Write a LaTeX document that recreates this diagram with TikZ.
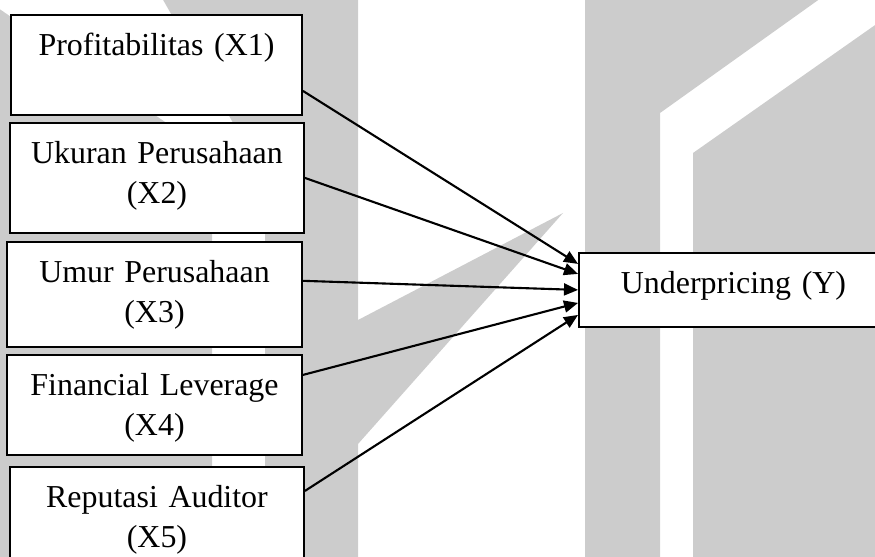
\documentclass[tikz,border=0pt]{standalone}
\usepackage{fontspec}
\setmainfont{Liberation Serif}
\usetikzlibrary{positioning, arrows.meta, calc}

\begin{document}
\begin{tikzpicture}[
        x=0.025cm, y=-0.025cm,
        >={Triangle[length=10pt, width=8.5pt]},
        variable/.style={draw=black, line width=1.3pt, fill=white, anchor=north,
            inner xsep=0pt, inner ysep=0.325cm, text width=#1, align=center,
            text height=0.7cm, font=\fontsize{22.7pt}{28.45pt}\selectfont},
        link/.style={->, line width=1.5pt},
        watermark/.style={fill=black!20},
    ]
        \useasboundingbox (0,0) rectangle (875,557);

        % Draw the watermark in the background
        \fill[watermark] (-2,8) -- (212,154) -- (212,560) -- (-2,560) -- cycle;
        \fill[watermark] (162,-2) -- (358,-2) -- (358,560) -- (265,560) -- (265,179) -- cycle;
        \fill[watermark] (358,320) -- (563,213) -- (358,444) -- cycle;
        \fill[watermark] (585,-2) -- (821,-2) -- (660,113) -- (660,560) -- (585,560) -- cycle;
        \fill[watermark] (878,23) -- (693,153) -- (693,560) -- (878,560) -- cycle;

        % Draw the independent variables
        \foreach \name/\x/\y/\w/\d/\txt in {
                X1/156.5/14/7.275/1.15/{Profitabilitas (X1)},
                X2/157/122/7.35/1.4/{Ukuran Perusahaan\\(X2)},
                X3/154.5/241/7.375/1.275/{Umur Perusahaan\\(X3)},
                X4/154.5/354/7.375/1.15/{Financial Leverage\\(X4)},
                X5/157/466/7.35/1.3/{Reputasi Auditor\\(X5)}}
            \node[variable=\w cm, text depth=\d cm] (\name) at (\x,\y) {\txt};

        % Draw the dependent variable
        \node[variable=7.725cm, text depth=0.5cm] (Y) at (733.5,252) {Underpricing (Y)};

        % Connect every independent variable with the dependent one
        \foreach \source/\a/\b in {X1/-0.65/0.65, X2/0/0.4, X3/0.34/0, X4/0.75/-0.325, X5/0.725/-0.625}
            \draw[link] ([yshift=\a cm]\source.east) -- ([yshift=\b cm]Y.west);
    \end{tikzpicture}
\end{document}
